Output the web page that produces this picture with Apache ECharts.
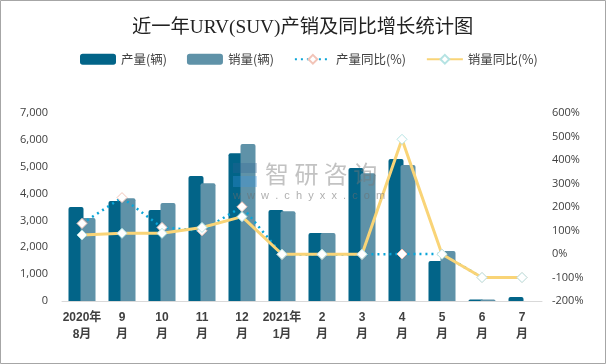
<!DOCTYPE html>
<html>
<head>
<meta charset="utf-8">
<style>
html, body { margin: 0; padding: 0; background: #fff; }
#main { width: 606px; height: 364px; box-sizing: border-box; }
</style>
<script src="https://cdn.jsdelivr.net/npm/echarts@6/dist/echarts.min.js"></script>
</head>
<body>
<div id="main"></div>
<script>
const categories = ["2020年\n8月", "9\n月", "10\n月", "11\n月", "12\n月", "2021年\n1月", "2\n月", "3\n月", "4\n月", "5\n月", "6\n月", "7\n月"];
const production = [3500, 3720, 3390, 4650, 5500, 3390, 2530, 4950, 5285, 1490, 60, 150];
const sales = [3090, 3830, 3650, 4380, 5845, 3340, 2530, 4760, 5060, 1860, 60, 0];
const productionYoy = [130, 240, 113, 99, 201, -2, -2, -2, 0, 0, -100, -100];
const salesYoy = [81, 88, 88, 113, 159, -1, -1, -1, 488, -1, -100, -100];

const textColor = "#404040";
const cjk = '"Noto Sans CJK SC", sans-serif';

const chart = echarts.init(document.getElementById("main"));
chart.setOption({
  animation: false,
  title: {
    text: "近一年URV(SUV)产销及同比增长统计图",
    left: 127,
    top: 13,
    textStyle: { fontFamily: '"Liberation Serif", "Noto Sans CJK SC", serif', fontSize: 19.3, fontWeight: "normal", color: "#222" },
  },
  legend: {
    top: 48,
    left: 75,
    itemGap: 20,
    itemWidth: 36,
    itemHeight: 11,
    textStyle: { fontFamily: cjk, fontSize: 12.5, color: textColor },
    data: ["产量(辆)", "销量(辆)", "产量同比(%)", "销量同比(%)"],
  },
  grid: { left: 62, right: 64, top: 113, bottom: 63 },
  xAxis: {
    type: "category",
    data: categories,
    axisTick: { show: false },
    axisLine: { lineStyle: { color: "#d9d9d9", width: 1 } },
    axisLabel: { interval: 0, margin: 8, lineHeight: 17, fontFamily: '"Liberation Sans", "Noto Sans CJK SC", sans-serif', fontSize: 12, fontWeight: "bold", color: textColor },
  },
  yAxis: [
    {
      type: "value",
      min: 0,
      max: 7000,
      interval: 1000,
      splitLine: { show: false },
      axisLabel: {
        fontFamily: '"Open Sans", sans-serif',
        fontSize: 11,
        color: textColor,
        margin: 14,
        formatter: (v) => v.toLocaleString("en-US"),
      },
    },
    {
      type: "value",
      min: -200,
      max: 600,
      interval: 100,
      splitLine: { show: false },
      axisLabel: {
        fontFamily: '"Open Sans", sans-serif',
        fontSize: 11,
        color: textColor,
        margin: 10,
        align: "left",
        formatter: "{value}%",
      },
    },
  ],
  series: [
    {
      name: "产量(辆)",
      type: "bar",
      data: production,
      barWidth: 15,
      barGap: "-20%",
      itemStyle: { color: "#026488", borderRadius: [2, 2, 0, 0] },
    },
    {
      name: "销量(辆)",
      type: "bar",
      data: sales,
      barWidth: 15,
      itemStyle: { color: "#5f92a8", borderRadius: [2, 2, 0, 0] },
    },
    {
      name: "产量同比(%)",
      type: "line",
      yAxisIndex: 1,
      data: productionYoy,
      symbol: "diamond",
      symbolSize: 10,
      lineStyle: { color: "#0aa5d8", width: 2.5, type: [2, 4] },
      itemStyle: { color: "#fff", borderColor: "#f2c4b8", borderWidth: 1 },
    },
    {
      name: "销量同比(%)",
      type: "line",
      yAxisIndex: 1,
      data: salesYoy,
      symbol: "diamond",
      symbolSize: 10,
      lineStyle: { color: "#f9d477", width: 3 },
      itemStyle: { color: "#fff", borderColor: "#b5e3e3", borderWidth: 1 },
    },
  ],
  graphic: [
    // watermark over the plot
    { type: "rect", shape: { x: 233, y: 163, width: 24, height: 10 }, z: 20, style: { fill: "rgba(50,100,150,0.30)" } },
    { type: "rect", shape: { x: 233, y: 176, width: 24, height: 11 }, z: 20, style: { fill: "rgba(60,150,225,0.32)" } },
    { type: "text", x: 265, y: 162, z: 20, style: { text: "智 研 咨 询", fontFamily: cjk, fontSize: 24, fill: "rgba(120,120,120,0.45)" } },
    { type: "text", x: 233, y: 190, z: 20, style: { text: "w  w  w  .  c  h  y  x  x  .  c  o  m", fontFamily: '"Liberation Sans", sans-serif', fontSize: 11, fill: "rgba(110,110,110,0.55)" } },
    // outer frame of the picture
    { type: "rect", shape: { x: 0.5, y: 0.5, width: 605, height: 363 }, z: 30, style: { fill: "none", stroke: "#a6a6a6", lineWidth: 1 } },
  ],
});
</script>
</body>
</html>
